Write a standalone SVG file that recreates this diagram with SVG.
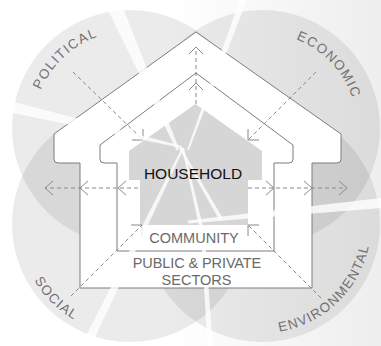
<svg xmlns="http://www.w3.org/2000/svg" width="381" height="346" viewBox="0 0 381 346">
<defs>
<linearGradient id="bg" x1="0" y1="0" x2="1" y2="0">
<stop offset="0.45" stop-color="#ffffff"/>
<stop offset="1" stop-color="#eeeeee"/>
</linearGradient>
<path id="pPol" d="M34.5,111.2 A97,97 0 0,1 146.8,32.5"/>
<path id="pEco" d="M245.5,34.4 A95,95 0 0,1 355.6,144.5"/>
<path id="pSoc" d="M20.7,243.3 A111,111 0 0,0 110.7,333.3"/>
<path id="pEnv" d="M207.5,318.4 A109,109 0 0,0 356.4,169.5"/>
</defs>
<style>
.circ{fill:#000;fill-opacity:0.08}
.house{fill:#fff;stroke:#7d7d7d;stroke-width:1}
.mid{fill:none;stroke:#7d7d7d;stroke-width:1}
.hh{fill:#d6d6d6}
.dash{fill:none;stroke:#8a8a8a;stroke-width:1;stroke-dasharray:4 3}
.head{fill:none;stroke:#8a8a8a;stroke-width:1}
.beam{fill:#fff;fill-opacity:0.8}
.lbl{font-family:"Liberation Sans",Arial,sans-serif;font-size:13.5px;fill:#727272;letter-spacing:1.3px}
.in{font-family:"Liberation Sans",Arial,sans-serif;font-size:14.5px;fill:#6a6a6a;text-anchor:middle}
</style>
<rect x="0" y="0" width="381" height="346" fill="url(#bg)"/>
<g id="circles">
<circle class="circ" cx="130" cy="128" r="118"/>
<circle class="circ" cx="262" cy="128" r="118"/>
<circle class="circ" cx="130" cy="224" r="118"/>
<circle class="circ" cx="262" cy="224" r="118"/>
</g>
<g id="outer-house">
<path class="house" d="M196,32 L341,134 L341,159 Q341,163 337,163 L312,163 L312,288 L80,288 L80,163 L58,163 Q54,163 54,159 L54,134 Z"/>
</g>
<g id="household-shape">
<path class="hh" d="M195.5,104 L262,151 L262,180 L248,180 L248,225 L140,225 L140,180 L129,180 L129,151 Z"/>
</g>
<g id="community-house">
<path class="mid" d="M196,73 L293,145 L293,159 Q293,163 289,163 L274,163 L274,251 L117,251 L117,163 L104,163 Q100,163 100,159 L100,145 Z"/>
</g>
<g id="connectors">
<line class="dash" x1="73" y1="72" x2="143" y2="140"/>
<polyline class="head" points="132,140 143,140 143,129"/>
<line class="dash" x1="316" y1="72" x2="248" y2="140"/>
<polyline class="head" points="259,140 248,140 248,129"/>
<line class="dash" x1="71" y1="296" x2="142" y2="225"/>
<polyline class="head" points="131,225 142,225 142,236"/>
<line class="dash" x1="321" y1="298" x2="248" y2="225"/>
<polyline class="head" points="259,225 248,225 248,236"/>
<line class="dash" x1="196" y1="104" x2="196" y2="47"/>
<polyline class="head" points="189,54 196,47 203,54"/>
<polyline class="head" points="189,90 196,83 203,90"/>
<line class="dash" x1="138" y1="188" x2="45" y2="188"/>
<polyline class="head" points="53,181 45,188 53,195"/>
<polyline class="head" points="88,181 80,188 88,195"/>
<polyline class="head" points="126,181 118,188 126,195"/>
<line class="dash" x1="248" y1="188" x2="347" y2="188"/>
<polyline class="head" points="266,181 274,188 266,195"/>
<polyline class="head" points="304,181 312,188 304,195"/>
<polyline class="head" points="339,181 347,188 339,195"/>
</g>
<g id="light-beams">
<polygon class="beam" points="179.4,149.4 115.3,-11.2 100.7,-4.8 176.6,150.6"/>
<polygon class="beam" points="181,147.4 222.7,218 219.3,220 179,148.6"/>
<polygon class="beam" points="188.9,150.3 248.3,-3.8 241.7,-6.2 187.1,149.7"/>
<polygon class="beam" points="183.9,148.4 90,348 82,344 182.1,147.6"/>
<polygon class="beam" points="184,147.8 204.9,234.6 201.1,235.4 182,148.2"/>
<polygon class="beam" points="205,234.9 212.5,345.8 207.5,346.2 201,235.1"/>
<polygon class="beam" points="188.1,223.5 385.5,207.6 384.5,197.6 187.9,220.5"/>
<polygon class="beam" points="182.2,146 -3.6,97.2 -6.4,108.8 181.8,148"/>
</g>
<g id="labels">
<text class="lbl"><textPath href="#pPol" startOffset="41.1%" text-anchor="middle">POLITICAL</textPath></text>
<text class="lbl"><textPath href="#pEco" startOffset="51.4%" text-anchor="middle">ECONOMIC</textPath></text>
<text class="lbl"><textPath href="#pSoc" startOffset="50.4%" text-anchor="middle">SOCIAL</textPath></text>
<text class="lbl"><textPath href="#pEnv" startOffset="49.3%" text-anchor="middle">ENVIRONMENTAL</textPath></text>
</g>
<g id="household">
<text x="193" y="179" font-family="Liberation Sans, Arial, sans-serif" font-size="15.5" fill="#111" text-anchor="middle">HOUSEHOLD</text>
</g>
<g id="community">
<text class="in" x="194" y="243" font-size="15.5">COMMUNITY</text>
</g>
<g id="public-private-sectors">
<text class="in" x="197" y="268" letter-spacing="-0.1">PUBLIC &amp; PRIVATE</text>
<text class="in" x="196.5" y="284.5">SECTORS</text>
</g>
</svg>
